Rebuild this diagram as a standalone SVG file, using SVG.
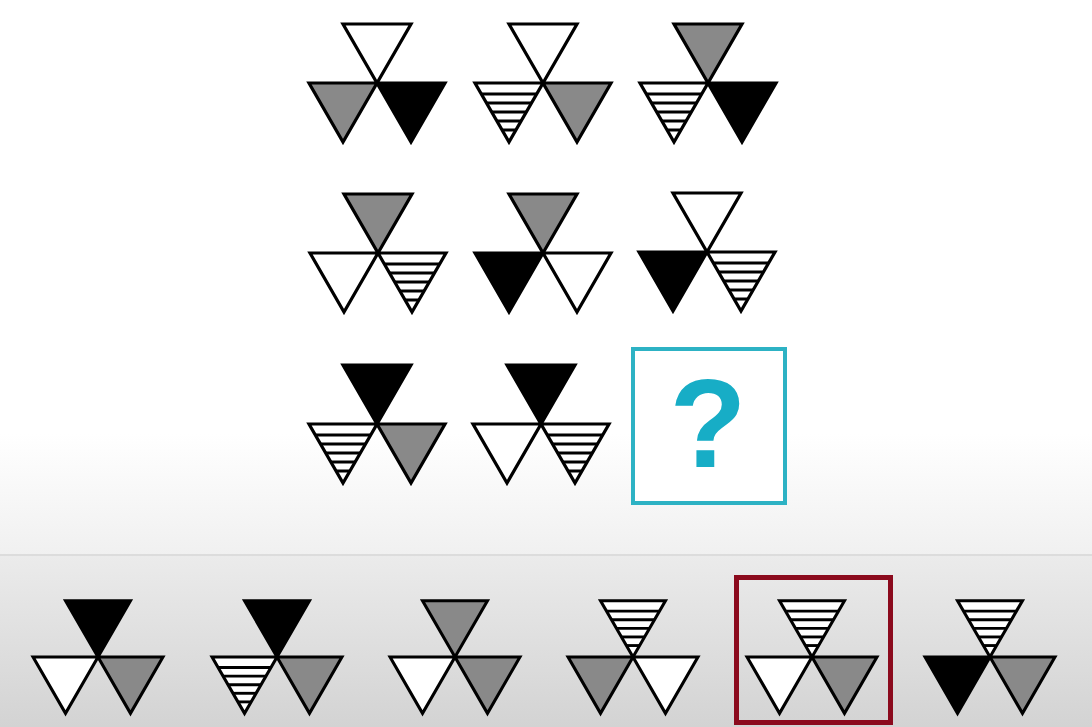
<svg xmlns="http://www.w3.org/2000/svg" xmlns:xlink="http://www.w3.org/1999/xlink" width="1092" height="727" viewBox="0 0 1092 727">
<style>
.ol{fill:none;stroke:#000;stroke-width:3.2;stroke-linejoin:miter}
.st{stroke:#000;stroke-width:3}
.qbox{fill:#fff;stroke:#2db2c4;stroke-width:4}
.qmark{font-family:"Liberation Sans",Arial,sans-serif;font-weight:bold;font-size:126px;fill:#17adc6;text-anchor:middle}
.sel{fill:none;stroke:#8b0a1d;stroke-width:5}
</style>
<defs>
<linearGradient id="bgTop" x1="0" y1="0" x2="0" y2="1">
<stop offset="0" stop-color="#ffffff"/>
<stop offset="0.78" stop-color="#ffffff"/>
<stop offset="1" stop-color="#f0f0f0"/>
</linearGradient>
<linearGradient id="bgBot" x1="0" y1="0" x2="0" y2="1">
<stop offset="0" stop-color="#ebebeb"/>
<stop offset="1" stop-color="#d3d3d3"/>
</linearGradient>
<g id="tw"><polygon points="0,0 68,0 34,59" fill="#fff"/><polygon class="ol" points="0,0 68,0 34,59"/></g>
<g id="tg"><polygon points="0,0 68,0 34,59" fill="#898989"/><polygon class="ol" points="0,0 68,0 34,59"/></g>
<g id="tb"><polygon points="0,0 68,0 34,59" fill="#000"/><polygon class="ol" points="0,0 68,0 34,59"/></g>
<g id="ts"><polygon points="0,0 68,0 34,59" fill="#fff"/>
<line class="st" x1="6.3" y1="11" x2="61.7" y2="11"/>
<line class="st" x1="11.5" y1="20" x2="56.5" y2="20"/>
<line class="st" x1="16.7" y1="29" x2="51.3" y2="29"/>
<line class="st" x1="21.9" y1="38" x2="46.1" y2="38"/>
<line class="st" x1="27.1" y1="47" x2="40.9" y2="47"/>
<polygon class="ol" points="0,0 68,0 34,59"/></g>
</defs>
<rect x="0" y="0" width="1092" height="556" fill="url(#bgTop)"/>
<rect x="0" y="556" width="1092" height="171" fill="url(#bgBot)"/>
<line x1="0" y1="555" x2="1092" y2="555" stroke="#dcdcdc" stroke-width="2"/>
<g id="connectors"/>
<!-- Row 1 -->
<g id="fig-r1c1" transform="translate(377,83)"><use href="#tw" x="-34" y="-59"/><use href="#tg" x="-68" y="0"/><use href="#tb" x="0" y="0"/></g>
<g id="fig-r1c2" transform="translate(543,83)"><use href="#tw" x="-34" y="-59"/><use href="#ts" x="-68" y="0"/><use href="#tg" x="0" y="0"/></g>
<g id="fig-r1c3" transform="translate(708,83)"><use href="#tg" x="-34" y="-59"/><use href="#ts" x="-68" y="0"/><use href="#tb" x="0" y="0"/></g>
<!-- Row 2 -->
<g id="fig-r2c1" transform="translate(378,253)"><use href="#tg" x="-34" y="-59"/><use href="#tw" x="-68" y="0"/><use href="#ts" x="0" y="0"/></g>
<g id="fig-r2c2" transform="translate(543,253)"><use href="#tg" x="-34" y="-59"/><use href="#tb" x="-68" y="0"/><use href="#tw" x="0" y="0"/></g>
<g id="fig-r2c3" transform="translate(707,252)"><use href="#tw" x="-34" y="-59"/><use href="#tb" x="-68" y="0"/><use href="#ts" x="0" y="0"/></g>
<!-- Row 3 -->
<g id="fig-r3c1" transform="translate(377,424)"><use href="#tb" x="-34" y="-59"/><use href="#ts" x="-68" y="0"/><use href="#tg" x="0" y="0"/></g>
<g id="fig-r3c2" transform="translate(541,424)"><use href="#tb" x="-34" y="-59"/><use href="#tw" x="-68" y="0"/><use href="#ts" x="0" y="0"/></g>
<g id="question">
<rect class="qbox" x="633" y="349" width="152" height="154"/>
<text class="qmark" x="708" y="467">?</text>
</g>
<!-- Options -->
<g id="opt1" transform="translate(98,657) scale(0.955)"><use href="#tb" x="-34" y="-59"/><use href="#tw" x="-68" y="0"/><use href="#tg" x="0" y="0"/></g>
<g id="opt2" transform="translate(277,657) scale(0.955)"><use href="#tb" x="-34" y="-59"/><use href="#ts" x="-68" y="0"/><use href="#tg" x="0" y="0"/></g>
<g id="opt3" transform="translate(455,657) scale(0.955)"><use href="#tg" x="-34" y="-59"/><use href="#tw" x="-68" y="0"/><use href="#tg" x="0" y="0"/></g>
<g id="opt4" transform="translate(633,657) scale(0.955)"><use href="#ts" x="-34" y="-59"/><use href="#tg" x="-68" y="0"/><use href="#tw" x="0" y="0"/></g>
<g id="opt5" transform="translate(812,657) scale(0.955)"><use href="#ts" x="-34" y="-59"/><use href="#tw" x="-68" y="0"/><use href="#tg" x="0" y="0"/></g>
<g id="opt6" transform="translate(990,657) scale(0.955)"><use href="#ts" x="-34" y="-59"/><use href="#tb" x="-68" y="0"/><use href="#tg" x="0" y="0"/></g>
<rect id="selection" class="sel" x="736.5" y="577.5" width="154" height="145"/>
</svg>
